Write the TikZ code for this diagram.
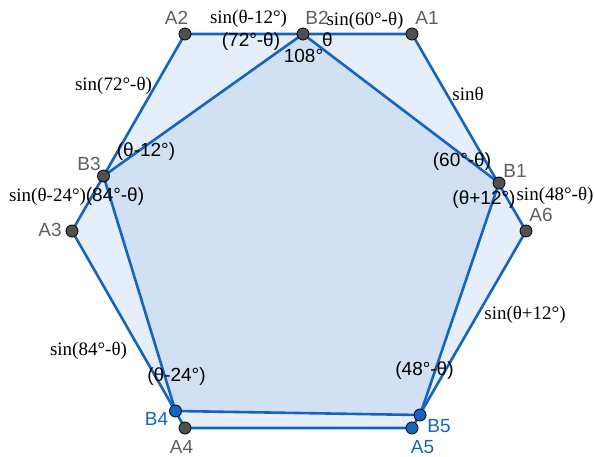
\documentclass[tikz,border=0pt]{standalone}
\usepackage{fontspec}
\setmainfont{Liberation Serif}
\setsansfont{Liberation Sans}
\usetikzlibrary{positioning}
\definecolor{ggblue}{RGB}{21,101,192}
\definecolor{hexfill}{RGB}{230,238,249}
\definecolor{pentfill}{RGB}{209,224,243}
\definecolor{dotgray}{RGB}{80,80,80}
\definecolor{labgray}{RGB}{95,95,95}

\begin{document}
\begin{tikzpicture}[x=1pt, y=-1pt,
  every node/.style={inner sep=0pt},
  side/.style={draw=ggblue, line width=2.6pt, line join=round},
  vdot/.style={circle, draw=black, line width=0.8pt, fill=dotgray, minimum size=12pt, inner sep=0pt},
  bvdot/.style={vdot, fill=ggblue},
  ptlabel/.style={font=\sffamily\fontsize{19}{19}\selectfont, text=labgray},
  bptlabel/.style={ptlabel, text=ggblue},
  anglabel/.style={font=\sffamily\fontsize{19}{19}\selectfont},
  sinlabel/.style={font=\rmfamily\fontsize{19}{19}\selectfont}
]
\useasboundingbox (0,0) rectangle (594,457);

% hexagon A1..A6
\coordinate (A1) at (412,34);
\coordinate (A2) at (185,34);
\coordinate (A3) at (72,231);
\coordinate (A4) at (185,428);
\coordinate (A5) at (412,428);
\coordinate (A6) at (526,231);
% pentagon B1..B5
\coordinate (B1) at (499,183);
\coordinate (B2) at (303,34);
\coordinate (B3) at (103.5,176);
\coordinate (B4) at (175.5,411);
\coordinate (B5) at (420,415);

\fill[hexfill] (A1) -- (A2) -- (A3) -- (A4) -- (A5) -- (A6) -- cycle;
\fill[pentfill] (B1) -- (B2) -- (B3) -- (B4) -- (B5) -- cycle;
\draw[side] (A1) -- (A2) -- (A3) -- (A4) -- (A5) -- (A6) -- cycle;
\draw[side] (B1) -- (B2) -- (B3) -- (B4) -- (B5) -- cycle;

% points
\foreach \p in {A1,A2,A3,A4,A6,B1,B2,B3}
  \node[vdot] (p\p) at (\p) {};
\foreach \p in {A5,B4,B5}
  \node[bvdot] (p\p) at (\p) {};

% point names
\node[ptlabel] (lA1) at (427,17.5) {A1};
\node[ptlabel] (lA2) at (176.5,17.5) {A2};
\node[ptlabel] (lB2) at (317,17.5) {B2};
\node[ptlabel] (lB3) at (89,163.5) {B3};
\node[ptlabel] (lA3) at (50,230) {A3};
\node[ptlabel] (lB1) at (515,170.5) {B1};
\node[ptlabel] (lA6) at (541,215) {A6};
\node[bptlabel] (lB4) at (156.5,418.5) {B4};
\node[ptlabel] (lA4) at (181.5,446.5) {A4};
\node[bptlabel] (lB5) at (439,426) {B5};
\node[bptlabel] (lA5) at (422.5,447.5) {A5};

% side lengths
\node[sinlabel] (s1) at (248.5,19) {sin(θ-12°)};
\node[sinlabel] (s2) at (365,20.5) {sin(60°-θ)};
\node[sinlabel] (s3) at (113.5,85.5) {sin(72°-θ)};
\node[sinlabel] (s4) at (468,93.5) {sinθ};
\node[sinlabel] (s5) at (47.5,196.5) {sin(θ-24°)};
\node[sinlabel] (s6) at (555,195.5) {sin(48°-θ)};
\node[sinlabel] (s7) at (525,314.5) {sin(θ+12°)};
\node[sinlabel] (s8) at (88.5,350.5) {sin(84°-θ)};

% angles
\node[anglabel] (g1) at (251,41.5) {(72°-θ)};
\node[anglabel] (g2) at (327.5,40) {θ};
\node[anglabel] (g3) at (303.5,55.5) {108°};
\node[anglabel] (g4) at (146,151.5) {(θ-12°)};
\node[anglabel] (g5) at (115,196.5) {(84°-θ)};
\node[anglabel] (g6) at (462,162) {(60°-θ)};
\node[anglabel] (g7) at (484,200) {(θ+12°)};
\node[anglabel] (g8) at (176.5,376.5) {(θ-24°)};
\node[anglabel] (g9) at (424.5,370.5) {(48°-θ)};
\end{tikzpicture}
\end{document}
